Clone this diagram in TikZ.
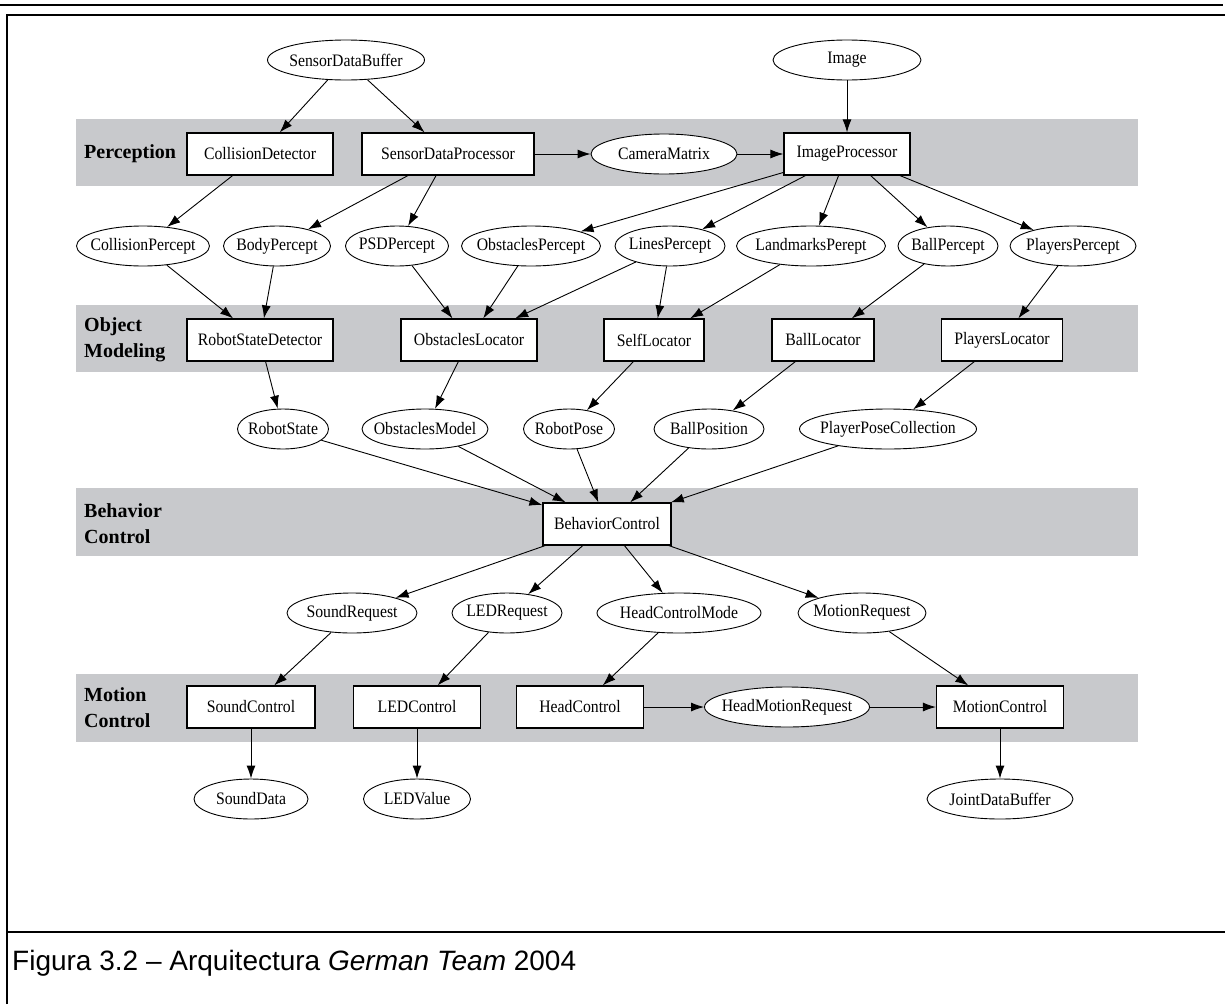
\documentclass[tikz,border=0pt]{standalone}
\usepackage{fontspec}
\setmainfont{Liberation Serif}
\newfontfamily\capfont{Liberation Sans}
\newfontfamily\gvfont[FakeStretch=0.9]{Liberation Serif}
\usepackage{tikz}
\usetikzlibrary{arrows.meta,shapes}
\definecolor{bandgray}{RGB}{200,201,204}

\begin{document}
\begin{tikzpicture}[x=1pt, y=-1pt, >={Latex[length=13pt,width=9pt]}]
	\tikzstyle{every node} = [font=\gvfont\fontsize{17.5}{20}\selectfont]
	\tikzstyle{data} = [ellipse, draw, fill=white, line width=.9pt, inner xsep=-40pt, inner ysep=0pt, minimum height=40pt]
	\tikzstyle{module} = [rectangle, draw, fill=white, line width=1.2pt, inner xsep=-40pt, minimum height=42pt]
	\tikzstyle{layer} = [fill=bandgray]
	\tikzstyle{title} = [anchor=west, inner sep=0pt, align=left, font=\rmfamily\fontsize{20}{26}\selectfont\bfseries]
	\tikzstyle{link} = [->, line width=.9pt]
	\useasboundingbox (0,0) rectangle (1225,1004);
	\draw [line width=1.3pt] (0,5) -- (1223,5);
	\draw [line width=2.5pt] (7,1004) -- (7,15) -- (1225,15);
	\draw [line width=2.5pt] (7,932) -- (1225,932);
	\node [anchor=west, inner sep=0pt, font=\capfont\fontsize{28}{32}\selectfont] (cap) at (12,963) {Figura 3.2 \textendash{} Arquitectura \textit{German Team} 2004};
	\fill [layer] (76,119) rectangle (1138,186);
	\fill [layer] (76,305) rectangle (1138,372);
	\fill [layer] (76,488) rectangle (1138,556);
	\fill [layer] (76,674) rectangle (1138,742);
	\node [title] (perc)  at (84,154) {Perception};
	\node [title] (objm)  at (84,340) {Object\\Modeling};
	\node [title] (behc)  at (84,524) {Behavior\\Control};
	\node [title] (motc)  at (84,708) {Motion\\Control};
	\node [data, minimum width=157pt] (sdb)  at (346,60)  {SensorDataBuffer};
	\node [data, minimum width=148pt] (img)  at (847,60)  {Image};
	\node [module, minimum width=146pt] (cd)  at (260,154) {CollisionDetector};
	\node [module, minimum width=172pt] (sdp) at (448,154) {SensorDataProcessor};
	\node [data, minimum width=146pt] (cam)  at (664,154) {CameraMatrix};
	\node [module, minimum width=126pt] (ip)  at (847,154) {ImageProcessor};
	\node [data, minimum width=133pt] (colp)  at (143,246)  {CollisionPercept};
	\node [data, minimum width=107pt] (bodp)  at (277,246)  {BodyPercept};
	\node [data, minimum width=103pt] (psdp)  at (397,246)  {PSDPercept};
	\node [data, minimum width=139pt] (obsp)  at (531,246)  {ObstaclesPercept};
	\node [data, minimum width=110pt] (linp)  at (670,246)  {LinesPercept};
	\node [data, minimum width=149pt] (lmp)   at (811,246)  {LandmarksPerept};
	\node [data, minimum width=100pt] (balp)  at (948,246)  {BallPercept};
	\node [data, minimum width=126pt] (plap)  at (1073,246) {PlayersPercept};
	\node [module, minimum width=146pt] (rsd)  at (260,340)  {RobotStateDetector};
	\node [module, minimum width=136pt] (obsl) at (469,340)  {ObstaclesLocator};
	\node [module, minimum width=100pt] (self) at (654,340)  {SelfLocator};
	\node [module, minimum width=102pt] (ball) at (823,340)  {BallLocator};
	\node [module, minimum width=121pt] (plal) at (1002,340) {PlayersLocator};
	\node [data, minimum width=91pt]  (rst)  at (283,429) {RobotState};
	\node [data, minimum width=126pt] (obsm) at (425,429) {ObstaclesModel};
	\node [data, minimum width=91pt]  (rps)  at (569,429) {RobotPose};
	\node [data, minimum width=110pt] (bpos) at (709,429) {BallPosition};
	\node [data, minimum width=177pt] (ppc)  at (888,429) {PlayerPoseCollection};
	\node [module, minimum width=128pt] (bc) at (607,524) {BehaviorControl};
	\node [data, minimum width=130pt] (sreq) at (352,613) {SoundRequest};
	\node [data, minimum width=110pt] (lreq) at (507,613) {LEDRequest};
	\node [data, minimum width=164pt] (hcm)  at (679,613) {HeadControlMode};
	\node [data, minimum width=128pt] (mreq) at (862,613) {MotionRequest};
	\node [module, minimum width=128pt] (sctl) at (251,707)  {SoundControl};
	\node [module, minimum width=127pt] (lctl) at (417,707)  {LEDControl};
	\node [module, minimum width=127pt] (hctl) at (580,707)  {HeadControl};
	\node [data, minimum width=165pt]   (hmr)  at (787,707)  {HeadMotionRequest};
	\node [module, minimum width=127pt] (mctl) at (1000,707) {MotionControl};
	\node [data, minimum width=114pt] (sdat) at (251,799)  {SoundData};
	\node [data, minimum width=107pt] (lval) at (417,799)  {LEDValue};
	\node [data, minimum width=146pt] (jdb)  at (1000,799) {JointDataBuffer};
	\draw [link] (sdb) -- (cd);
	\draw [link] (sdb) -- (sdp);
	\draw [link] (sdp) -- (cam);
	\draw [link] (cam) -- (ip);
	\draw [link] (img) -- (ip);
	\draw [link] (cd)  -- (colp);
	\draw [link] (sdp) -- (bodp);
	\draw [link] (sdp) -- (psdp);
	\draw [link] (ip)  -- (obsp);
	\draw [link] (ip)  -- (linp);
	\draw [link] (ip)  -- (lmp);
	\draw [link] (ip)  -- (balp);
	\draw [link] (ip)  -- (plap);
	\draw [link] (colp) -- (rsd);
	\draw [link] (bodp) -- (rsd);
	\draw [link] (psdp) -- (obsl);
	\draw [link] (obsp) -- (obsl);
	\draw [link] (linp) -- (obsl);
	\draw [link] (linp) -- (self);
	\draw [link] (lmp)  -- (self);
	\draw [link] (balp) -- (ball);
	\draw [link] (plap) -- (plal);
	\draw [link] (rsd)  -- (rst);
	\draw [link] (obsl) -- (obsm);
	\draw [link] (self) -- (rps);
	\draw [link] (ball) -- (bpos);
	\draw [link] (plal) -- (ppc);
	\draw [link] (rst)  -- (bc);
	\draw [link] (obsm) -- (bc);
	\draw [link] (rps)  -- (bc);
	\draw [link] (bpos) -- (bc);
	\draw [link] (ppc)  -- (bc);
	\draw [link] (bc) -- (sreq);
	\draw [link] (bc) -- (lreq);
	\draw [link] (bc) -- (hcm);
	\draw [link] (bc) -- (mreq);
	\draw [link] (sreq) -- (sctl);
	\draw [link] (lreq) -- (lctl);
	\draw [link] (hcm)  -- (hctl);
	\draw [link] (mreq) -- (mctl);
	\draw [link] (hctl) -- (hmr);
	\draw [link] (hmr)  -- (mctl);
	\draw [link] (sctl) -- (sdat);
	\draw [link] (lctl) -- (lval);
	\draw [link] (mctl) -- (jdb);
\end{tikzpicture}
\end{document}
